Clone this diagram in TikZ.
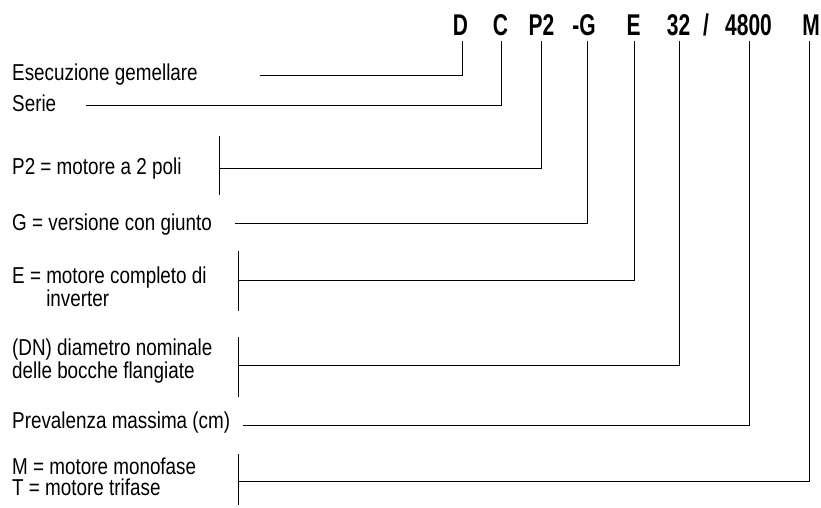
\documentclass[tikz,border=0pt]{standalone}
\usepackage{fontspec}
\setmainfont{Liberation Sans}[FakeStretch=0.82]
\newfontfamily\codefont{Liberation Sans}[FakeStretch=0.70,BoldFont={* Bold},BoldFeatures={FakeStretch=0.70}]
\begin{document}
\begin{tikzpicture}[x=1pt,y=-1pt,
  codetxt/.style={anchor=base,inner sep=0pt,font=\codefont\bfseries\fontsize{30}{30}\selectfont},
  lbl/.style={anchor=base west,inner sep=0pt,align=left,font=\fontsize{23}{21}\selectfont},
  wire/.style={line width=0.9pt,black}]
\useasboundingbox (0,0) rectangle (821,507);

% type code
\node[codetxt] (cD)  at (460.5,35) {D};
\node[codetxt] (cC)  at (500.5,35) {C};
\node[codetxt] (cP)  at (541.5,35) {P2};
\node[codetxt] (cG)  at (584,35)   {-G};
\node[codetxt] (cE)  at (633.5,35) {E};
\node[codetxt] (c32) at (678.5,35) {32};
\node[codetxt] (cSl) at (706,35)   {/};
\node[codetxt] (c48) at (748.5,35) {4800};
\node[codetxt] (cM)  at (811,35)   {M};

% tick tops under the code letters
\coordinate (tD)  at (462,41);
\coordinate (tC)  at (501,41);
\coordinate (tP)  at (541,41);
\coordinate (tG)  at (587,41);
\coordinate (tE)  at (634,41);
\coordinate (t32) at (679,41);
\coordinate (t48) at (749,41);
\coordinate (tM)  at (809,41);

% descriptions (multi-line nodes are anchored on their last line)
\node[lbl] (lD)  at (12,80)  {Esecuzione gemellare};
\node[lbl] (lC)  at (12,111) {Serie};
\node[lbl] (lP)  at (12,174) {P2 = motore a 2 poli};
\node[lbl] (lG)  at (12,230) {G = versione con giunto};
\node[lbl] (lE)  at (12,306) {E = motore completo di\\\phantom{E = }inverter};
\node[lbl] (lDN) at (12,378) {(DN) diametro nominale\\delle bocche flangiate};
\node[lbl] (lH)  at (12,428) {Prevalenza massima (cm)};
\node[lbl] (lM)  at (12,495) {M = motore monofase\\T = motore trifase};

% line starts and brackets
\coordinate (sD)  at (260,75);
\coordinate (sC)  at (86,105);
\coordinate (sP)  at (219,168);
\coordinate (sG)  at (235,223);
\coordinate (sE)  at (238,280);
\coordinate (sDN) at (238,365);
\coordinate (sH)  at (243,425);
\coordinate (sM)  at (238,481);

\coordinate (bPa)  at (219,136); \coordinate (bPb)  at (219,195);
\coordinate (bEa)  at (238,251); \coordinate (bEb)  at (238,311);
\coordinate (bDNa) at (238,337); \coordinate (bDNb) at (238,397);
\coordinate (bMa)  at (238,454); \coordinate (bMb)  at (238,505);

\draw[wire] (bPa) -- (bPb);
\draw[wire] (bEa) -- (bEb);
\draw[wire] (bDNa) -- (bDNb);
\draw[wire] (bMa) -- (bMb);

% connectors
\draw[wire] (sD)  -| (tD);
\draw[wire] (sC)  -| (tC);
\draw[wire] (sP)  -| (tP);
\draw[wire] (sG)  -| (tG);
\draw[wire] (sE)  -| (tE);
\draw[wire] (sDN) -| (t32);
\draw[wire] (sH)  -| (t48);
\draw[wire] (sM)  -| (tM);
\end{tikzpicture}
\end{document}
